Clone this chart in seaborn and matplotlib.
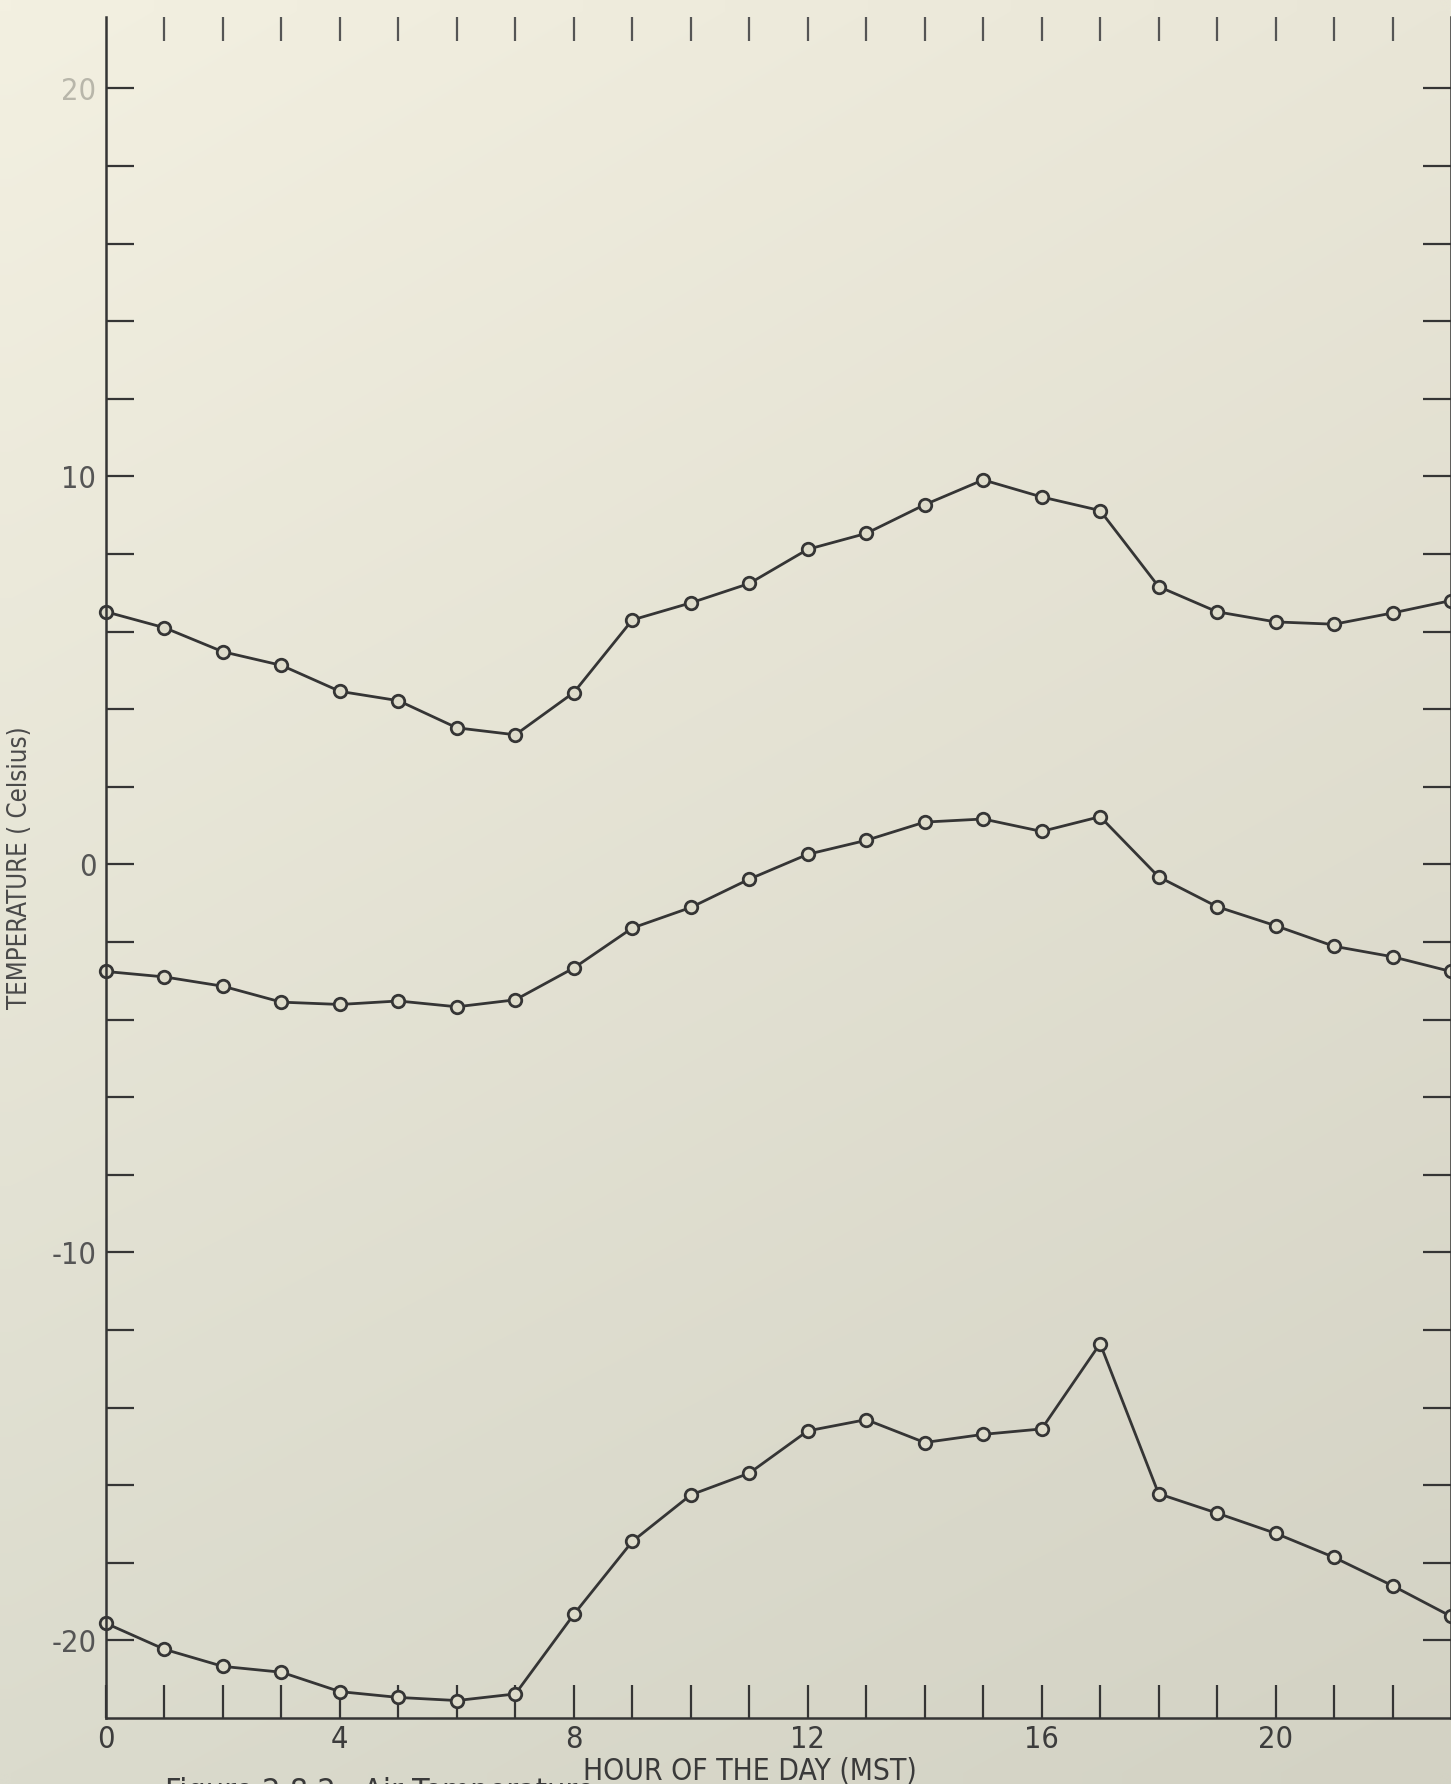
import numpy as np
import pandas as pd
import matplotlib
matplotlib.use("Agg")
import matplotlib.pyplot as plt
import seaborn as sns
from matplotlib import font_manager as fm

# ---------------- data ----------------
hours = list(range(0, 24))
upper_temp = [6.51, 6.10, 5.48, 5.13, 4.46, 4.22, 3.52, 3.34, 4.43, 6.30, 6.74, 7.24,
              8.12, 8.53, 9.27, 9.91, 9.47, 9.12, 7.16, 6.51, 6.25, 6.19, 6.48, 6.80]
middle_temp = [-2.76, -2.90, -3.14, -3.55, -3.61, -3.52, -3.67, -3.49, -2.67, -1.64, -1.11, -0.38,
               0.26, 0.62, 1.09, 1.17, 0.85, 1.23, -0.32, -1.09, -1.58, -2.11, -2.38, -2.76]
lower_temp = [-19.56, -20.23, -20.67, -20.82, -21.32, -21.47, -21.55, -21.38, -19.33, -17.45, -16.25, -15.69,
              -14.60, -14.31, -14.90, -14.69, -14.55, -12.35, -16.22, -16.72, -17.24, -17.86, -18.59, -19.38]
x_major_ticks = [0, 4, 8, 12, 16, 20]
y_major_ticks = [-20, -10, 0, 10, 20]
x_label = "HOUR OF THE DAY (MST)"
y_label = "TEMPERATURE ( Celsius)"
caption = "Figure 2.8.2   Air Temperature"

df = pd.DataFrame({
    "hour": hours * 3,
    "temp": upper_temp + middle_temp + lower_temp,
    "series": ["upper"] * 24 + ["middle"] * 24 + ["lower"] * 24,
})

# ---------------- style ----------------
sns.set_theme(style="white")
plt.rcParams["font.family"] = ["DejaVu Sans"]

# look for a condensed / narrow sans face (closer to the lettering-guide text)
cond_file = None
for f in fm.fontManager.ttflist:
    fn = f.fname.lower()
    if ("condensed" in fn or "narrow" in fn) and "bold" not in fn and "oblique" not in fn \
            and "italic" not in fn and ("dejavu" in fn or "liberation" in fn or "roboto" in fn or "opensans" in fn.replace(" ", "")):
        cond_file = f.fname
        break
if cond_file is not None:
    FP = lambda size: fm.FontProperties(fname=cond_file, size=size)
else:
    FP = lambda size: fm.FontProperties(family="DejaVu Sans", size=size)

INK = "#353535"
W, H = 1451, 1784
fig = plt.figure(figsize=(W / 100, H / 100), dpi=100)

# background paper gradient
bg = fig.add_axes([0, 0, 1, 1], zorder=-10)
tl = np.array([243, 240, 225]) / 255
tr = np.array([233, 230, 215]) / 255
bl = np.array([219, 219, 205]) / 255
br = np.array([211, 210, 196]) / 255
u = np.linspace(0, 1, 64)[None, :, None]
v = np.linspace(0, 1, 80)[:, None, None]
grad = (1 - v) * ((1 - u) * tl + u * tr) + v * ((1 - u) * bl + u * br)
bg.imshow(grad, aspect="auto", extent=[0, 1, 0, 1], interpolation="bilinear")
bg.axis("off")

left = 106 / W
bottom = (H - 1718) / H
top_px = 17
ax = fig.add_axes([left, bottom, 1 - left, (1718 - top_px) / H])
ax.patch.set_alpha(0)

face = "#dedccb"
for name in ["upper", "middle", "lower"]:
    sub = df[df["series"] == name]
    sns.lineplot(data=sub, x="hour", y="temp", ax=ax, color=INK, linewidth=2.0,
                 marker="o", markersize=9, markerfacecolor=face,
                 markeredgecolor=INK, markeredgewidth=2.0, clip_on=False,
                 errorbar=None, legend=False)

ax.set_xlim(0, 23)
ax.set_ylim(-22, 21.84)

ax.set_xticks(x_major_ticks)
ax.set_xticks(hours[1:23], minor=True)
ax.set_yticks(y_major_ticks)
ax.set_yticks(list(range(-20, 21, 2)), minor=True)
ax.set_xticklabels([str(t) for t in x_major_ticks])
ax.set_yticklabels([str(t) for t in y_major_ticks])

ax.tick_params(axis="x", which="both", direction="in", length=24, width=1.6,
               color=INK, bottom=True, top=False, pad=5, labelcolor="#3c3c3c")
ax.tick_params(axis="y", which="both", direction="in", length=20, width=1.6,
               color=INK, left=True, right=True, pad=7, labelcolor="#555555")
for lab in ax.get_xticklabels():
    lab.set_fontproperties(FP(22))
for lab in ax.get_yticklabels():
    lab.set_fontproperties(FP(22))
    if lab.get_text() == "20":
        lab.set_color("#b8b6aa")

sec = ax.secondary_xaxis("top")
sec.set_xticks(hours[1:23])
sec.tick_params(direction="in", length=17, width=1.6, color="#555555", labeltop=False)
for s in sec.spines.values():
    s.set_visible(False)

for side in ["left", "bottom", "right"]:
    ax.spines[side].set_visible(True)
    ax.spines[side].set_color(INK)
    ax.spines[side].set_linewidth(1.8)
ax.spines["top"].set_visible(False)

ax.set_xlabel("")
ax.set_ylabel("")
fig.text(750 / W, (H - 1772) / H, x_label, ha="center", va="center",
         fontproperties=FP(21.5), color="#3a3a3a")
fig.text(20 / W, (H - (1718 + top_px) / 2) / H, y_label, rotation=90,
         ha="center", va="center", fontproperties=FP(18.5), color="#4a4a4a")
fig.text(165 / W, (H - 1777) / H, caption, ha="left", va="top",
         fontproperties=FP(23), color="#3a3a3a")

fig.savefig("out.png", dpi=100)
